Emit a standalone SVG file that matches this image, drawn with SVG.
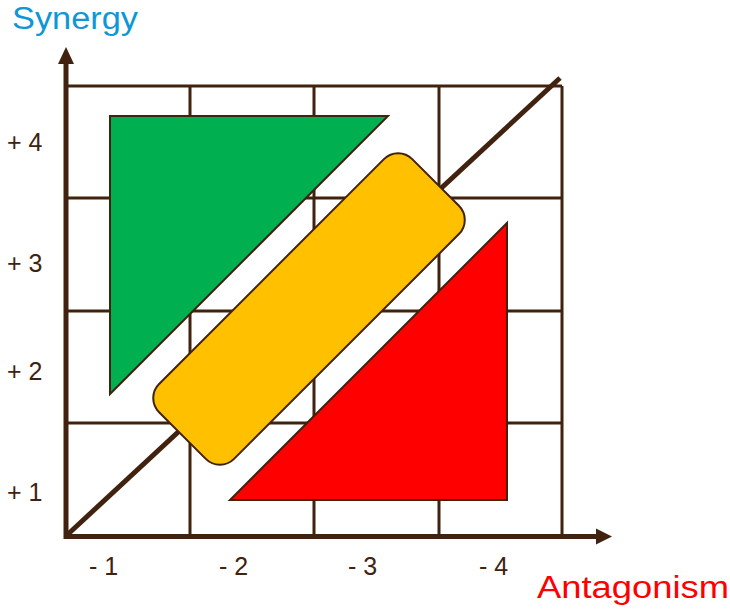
<svg xmlns="http://www.w3.org/2000/svg" width="730" height="611" viewBox="0 0 730 611">
<defs>
<style>
.grid{stroke:#40220F;stroke-width:3;fill:none}
.axis{stroke:#40220F;stroke-width:5;fill:none}
.ah{fill:#40220F}
.shape{stroke:#40220F;stroke-width:2;stroke-linejoin:miter}
.tick{font-family:"Liberation Sans",Arial,sans-serif;font-size:25px;fill:#40220F}
.title{font-family:"Liberation Sans",Arial,sans-serif;font-size:31px}
</style>
</defs>
<rect width="730" height="611" fill="#ffffff"/>
<g id="grid">
<line class="grid" x1="66" y1="86" x2="562" y2="86"/>
<line class="grid" x1="66" y1="198" x2="562" y2="198"/>
<line class="grid" x1="66" y1="311" x2="562" y2="311"/>
<line class="grid" x1="66" y1="423" x2="562" y2="423"/>
<line class="grid" x1="190" y1="86" x2="190" y2="536"/>
<line class="grid" x1="314" y1="86" x2="314" y2="536"/>
<line class="grid" x1="439" y1="86" x2="439" y2="536"/>
<line class="grid" x1="562" y1="86" x2="562" y2="536" stroke-width="2.5"/>
</g>
<g id="connectors">
<line class="axis" x1="66" y1="536" x2="560" y2="78"/>
<line class="axis" x1="66" y1="539" x2="66" y2="60"/>
<polygon class="ah" points="66,47 58,64 74,64"/>
<line class="axis" x1="64" y1="536.5" x2="599" y2="536.5"/>
<polygon class="ah" points="612,536.5 596,528.5 596,544.5"/>
</g>
<g id="green-triangle">
<polygon class="shape" fill="#00B050" points="110,116 388,116 110,394"/>
</g>
<g id="red-triangle">
<polygon class="shape" fill="#FF0000" points="507,223 507,500 230,500"/>
</g>
<g id="yellow-box">
<rect class="shape" fill="#FFC000" x="-179" y="-53" width="358" height="106" rx="20" ry="20" transform="translate(309,309) rotate(-45)"/>
</g>
<g id="labels">
<text class="title" x="12" y="29" fill="#0F96D6" textLength="126" lengthAdjust="spacingAndGlyphs">Synergy</text>
<text class="title" x="537" y="598" fill="#FF0000" textLength="192" lengthAdjust="spacingAndGlyphs">Antagonism</text>
<text class="tick" x="7" y="151">+ 4</text>
<text class="tick" x="7" y="272">+ 3</text>
<text class="tick" x="7" y="380">+ 2</text>
<text class="tick" x="7" y="501">+ 1</text>
<text class="tick" x="89" y="575">- 1</text>
<text class="tick" x="219" y="575">- 2</text>
<text class="tick" x="348" y="575">- 3</text>
<text class="tick" x="479" y="575">- 4</text>
</g>
</svg>
